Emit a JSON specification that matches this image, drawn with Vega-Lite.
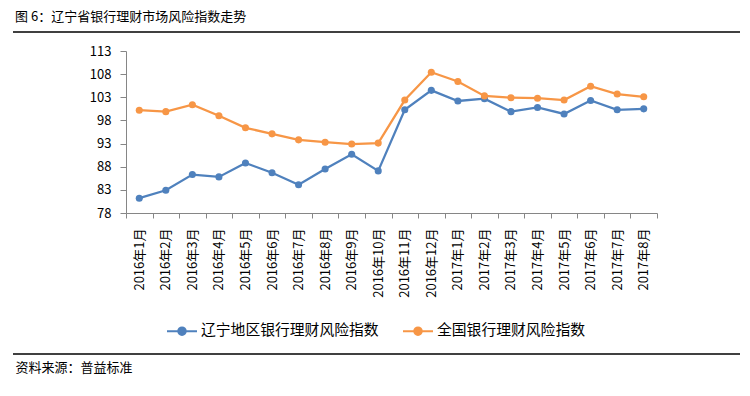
{
  "$schema": "https://vega.github.io/schema/vega-lite/v6.json",
  "width": 531,
  "height": 162,
  "autosize": {"type": "none"},
  "padding": {"left": 126, "top": 51, "right": 93, "bottom": 183},
  "background": "white",
  "config": {"view": {"stroke": null}, "font": "Noto Sans CJK SC"},
  "title": {"text": "图 6：辽宁省银行理财市场风险指数走势", "anchor": "start", "frame": "group", "fontSize": 13, "fontWeight": "normal", "color": "#000000", "dx": -111, "offset": 7},
  "data": {"values": [
    {"month": "2016年1月", "series": "辽宁地区银行理财风险指数", "value": 81.2},
    {"month": "2016年2月", "series": "辽宁地区银行理财风险指数", "value": 82.9},
    {"month": "2016年3月", "series": "辽宁地区银行理财风险指数", "value": 86.3},
    {"month": "2016年4月", "series": "辽宁地区银行理财风险指数", "value": 85.8},
    {"month": "2016年5月", "series": "辽宁地区银行理财风险指数", "value": 88.8},
    {"month": "2016年6月", "series": "辽宁地区银行理财风险指数", "value": 86.7},
    {"month": "2016年7月", "series": "辽宁地区银行理财风险指数", "value": 84.1},
    {"month": "2016年8月", "series": "辽宁地区银行理财风险指数", "value": 87.5},
    {"month": "2016年9月", "series": "辽宁地区银行理财风险指数", "value": 90.7},
    {"month": "2016年10月", "series": "辽宁地区银行理财风险指数", "value": 87.1},
    {"month": "2016年11月", "series": "辽宁地区银行理财风险指数", "value": 100.3},
    {"month": "2016年12月", "series": "辽宁地区银行理财风险指数", "value": 104.5},
    {"month": "2017年1月", "series": "辽宁地区银行理财风险指数", "value": 102.2},
    {"month": "2017年2月", "series": "辽宁地区银行理财风险指数", "value": 102.7},
    {"month": "2017年3月", "series": "辽宁地区银行理财风险指数", "value": 99.9},
    {"month": "2017年4月", "series": "辽宁地区银行理财风险指数", "value": 100.8},
    {"month": "2017年5月", "series": "辽宁地区银行理财风险指数", "value": 99.4},
    {"month": "2017年6月", "series": "辽宁地区银行理财风险指数", "value": 102.3},
    {"month": "2017年7月", "series": "辽宁地区银行理财风险指数", "value": 100.3},
    {"month": "2017年8月", "series": "辽宁地区银行理财风险指数", "value": 100.5},
    {"month": "2016年1月", "series": "全国银行理财风险指数", "value": 100.2},
    {"month": "2016年2月", "series": "全国银行理财风险指数", "value": 99.9},
    {"month": "2016年3月", "series": "全国银行理财风险指数", "value": 101.4},
    {"month": "2016年4月", "series": "全国银行理财风险指数", "value": 99.0},
    {"month": "2016年5月", "series": "全国银行理财风险指数", "value": 96.4},
    {"month": "2016年6月", "series": "全国银行理财风险指数", "value": 95.1},
    {"month": "2016年7月", "series": "全国银行理财风险指数", "value": 93.8},
    {"month": "2016年8月", "series": "全国银行理财风险指数", "value": 93.3},
    {"month": "2016年9月", "series": "全国银行理财风险指数", "value": 92.9},
    {"month": "2016年10月", "series": "全国银行理财风险指数", "value": 93.1},
    {"month": "2016年11月", "series": "全国银行理财风险指数", "value": 102.4},
    {"month": "2016年12月", "series": "全国银行理财风险指数", "value": 108.4},
    {"month": "2017年1月", "series": "全国银行理财风险指数", "value": 106.4},
    {"month": "2017年2月", "series": "全国银行理财风险指数", "value": 103.3},
    {"month": "2017年3月", "series": "全国银行理财风险指数", "value": 102.9},
    {"month": "2017年4月", "series": "全国银行理财风险指数", "value": 102.8},
    {"month": "2017年5月", "series": "全国银行理财风险指数", "value": 102.4},
    {"month": "2017年6月", "series": "全国银行理财风险指数", "value": 105.4},
    {"month": "2017年7月", "series": "全国银行理财风险指数", "value": 103.7},
    {"month": "2017年8月", "series": "全国银行理财风险指数", "value": 103.1}
  ]},
  "encoding": {
    "x": {"field": "month", "type": "nominal", "sort": null,
      "scale": {"type": "band", "paddingInner": 0, "paddingOuter": 0},
      "axis": {"labelAngle": 270, "labelFontSize": 13, "labelColor": "#000000", "labelPadding": 10,
        "tickBand": "extent", "tickSize": 5, "tickColor": "#868686", "domainColor": "#868686",
        "title": "资料来源：普益标准", "titleX": -111, "titleY": 154, "titleAlign": "left", "titleBaseline": "middle",
        "titleFontSize": 13, "titleFontWeight": "normal", "titleColor": "#000000", "titleAnchor": null}},
    "y": {"field": "value", "type": "quantitative",
      "scale": {"domain": [78, 113], "nice": false, "zero": false},
      "axis": {"values": [78, 83, 88, 93, 98, 103, 108, 113], "grid": false, "title": null,
        "labelFontSize": 13, "labelColor": "#000000", "labelPadding": 9, "tickSize": 6,
        "tickColor": "#868686", "domainColor": "#868686"}},
    "color": {"field": "series", "type": "nominal",
      "scale": {"domain": ["辽宁地区银行理财风险指数", "全国银行理财风险指数"], "range": ["#4F81BD", "#F79646"]},
      "legend": {"orient": "none", "direction": "horizontal", "legendX": 40, "legendY": 264, "title": null,
        "labelFontSize": 14.8, "labelColor": "#000000", "labelLimit": 400, "symbolSize": 900, "columnPadding": 20, "labelOffset": 3,
        "symbolType": "M-1,0L1,0M-0.25,0A0.25,0.25,0,1,1,0.25,0A0.25,0.25,0,1,1,-0.25,0Z",
        "symbolStrokeWidth": 2, "symbolOpacity": 1}}
  },
  "layer": [
    {"mark": {"type": "line", "strokeWidth": 2.25}},
    {"mark": {"type": "point", "filled": true, "size": 50, "opacity": 1}},
    {"data": {"values": [{}]}, "mark": {"type": "rule", "color": "#000000", "strokeWidth": 1.5, "clip": false},
      "encoding": {"x": {"value": -113}, "x2": {"value": 614}, "y": {"value": -19}, "color": null}},
    {"data": {"values": [{}]}, "mark": {"type": "rule", "color": "#000000", "strokeWidth": 1.5, "clip": false},
      "encoding": {"x": {"value": -113}, "x2": {"value": 614}, "y": {"value": 303}, "color": null}}
  ]
}
